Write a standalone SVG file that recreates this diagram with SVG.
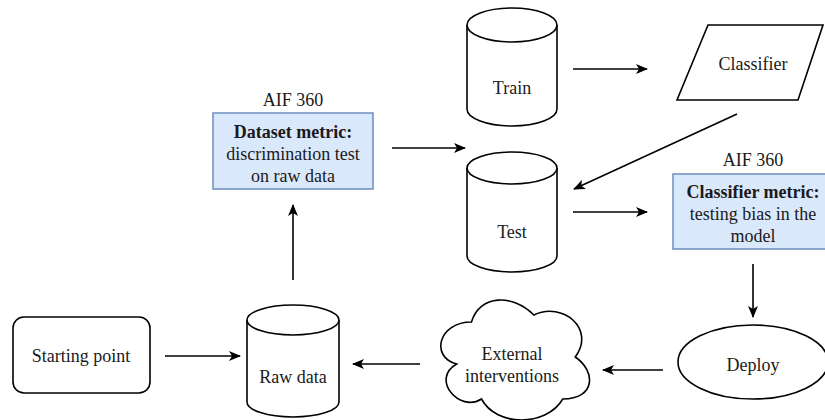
<svg xmlns="http://www.w3.org/2000/svg" width="825" height="420" viewBox="0 0 825 420">
<defs>
<marker id="arr" viewBox="0 0 12 10" refX="11" refY="5" markerWidth="12" markerHeight="10" markerUnits="userSpaceOnUse" orient="auto">
<path d="M0,0 L12,5 L0,10 L3,5 Z" fill="#000"/>
</marker>
<style>
.s{fill:#fff;stroke:#000;stroke-width:1.6}
.b{fill:#dae8fc;stroke:#6c8ebf;stroke-width:1.5}
.t{font-family:'Liberation Serif','DejaVu Serif',serif;font-size:18px;fill:#1a1a1a;text-anchor:middle}
.bd{font-weight:bold}
.c{fill:none;stroke:#000;stroke-width:1.6;marker-end:url(#arr)}
</style>
</defs>
<rect width="825" height="420" fill="#fff"/>
<g id="connectors">
<line class="c" x1="573" y1="69" x2="647" y2="69"/>
<line class="c" x1="737" y1="114" x2="574" y2="189"/>
<line class="c" x1="392" y1="148" x2="465" y2="148"/>
<line class="c" x1="573" y1="212" x2="647" y2="212"/>
<line class="c" x1="753" y1="264" x2="753" y2="317"/>
<line class="c" x1="663" y1="370" x2="603" y2="370"/>
<line class="c" x1="420" y1="364" x2="353" y2="364"/>
<line class="c" x1="165" y1="356" x2="240" y2="356"/>
<line class="c" x1="293" y1="280" x2="293" y2="205"/>
</g>
<g id="train">
<path class="s" d="M467,25 A45,17 0 0 1 557,25 V109 A45,17 0 0 1 467,109 Z"/>
<path class="s" fill="none" d="M467,25 A45,17 0 0 0 557,25"/>
<text class="t" x="512" y="94">Train</text>
</g>
<g id="classifier">
<path class="s" d="M708,25 L823,25 L798,100 L677,100 Z"/>
<text class="t" x="753" y="70">Classifier</text>
</g>
<g id="dataset-metric">
<text class="t" x="293" y="106">AIF 360</text>
<rect class="b" x="213" y="113" width="160" height="76"/>
<text class="t bd" x="293" y="138">Dataset metric:</text>
<text class="t" x="293" y="160">discrimination test</text>
<text class="t" x="293" y="182">on raw data</text>
</g>
<g id="test">
<path class="s" d="M467,168 A45,16 0 0 1 557,168 V256 A45,16 0 0 1 467,256 Z"/>
<path class="s" fill="none" d="M467,168 A45,16 0 0 0 557,168"/>
<text class="t" x="512" y="238">Test</text>
</g>
<g id="classifier-metric">
<text class="t" x="753" y="166">AIF 360</text>
<rect class="b" x="673" y="174" width="160" height="75"/>
<text class="t bd" x="753" y="198">Classifier metric:</text>
<text class="t" x="753" y="220">testing bias in the</text>
<text class="t" x="753" y="242">model</text>
</g>
<g id="deploy">
<ellipse class="s" cx="753" cy="362" rx="75" ry="37"/>
<text class="t" x="753" y="371">Deploy</text>
</g>
<g id="external">
<path class="s" d="M471.5,322 C438.3,322 430,357 456.6,364 C430,379.4 459.9,413 481.5,399 C496.4,427 546.2,427 562.8,399 C596,399 596,371 575.25,357 C596,329 562.8,301 533.75,315 C513,294 479.8,294 471.5,322 Z"/>
<text class="t" x="512" y="360">External</text>
<text class="t" x="512" y="382">interventions</text>
</g>
<g id="raw-data">
<path class="s" d="M247,320 A46,15 0 0 1 339,320 V402 A46,15 0 0 1 247,402 Z"/>
<path class="s" fill="none" d="M247,320 A46,15 0 0 0 339,320"/>
<text class="t" x="293" y="383">Raw data</text>
</g>
<g id="starting-point">
<rect class="s" x="13" y="317" width="137" height="76" rx="11"/>
<text class="t" x="81" y="362">Starting point</text>
</g>
</svg>
